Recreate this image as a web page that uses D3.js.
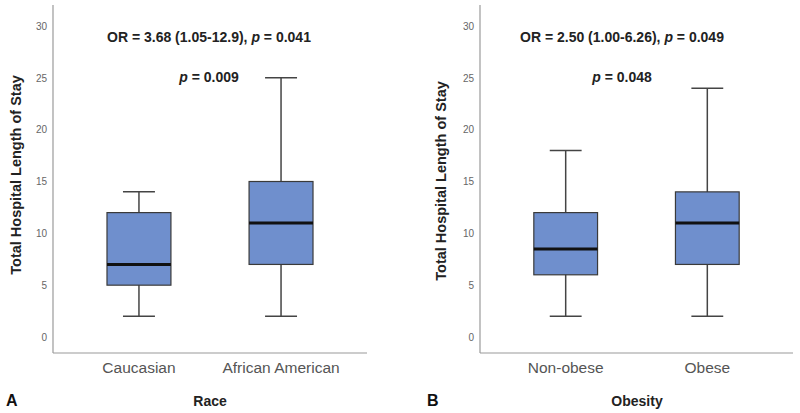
<!DOCTYPE html>
<html>
<head>
<meta charset="utf-8">
<script src="https://cdn.jsdelivr.net/npm/d3@7"></script>
<style>
  body { margin: 0; background: #fff; }
  svg { font-family: "Liberation Sans", Arial, sans-serif; }
</style>
</head>
<body>
<script>
// panel A: race
var raceGroups = ["Caucasian", "African American"];
var raceMin = [2, 2];
var raceQ1 = [5, 7];
var raceMedian = [7, 11];
var raceQ3 = [12, 15];
var raceMax = [14, 25];

// panel B: obesity
var obesityGroups = ["Non-obese", "Obese"];
var obesityMin = [2, 2];
var obesityQ1 = [6, 7];
var obesityMedian = [8.5, 11];
var obesityQ3 = [12, 14];
var obesityMax = [18, 24];

var yTicks = [0, 5, 10, 15, 20, 25, 30];

var w = 800, h = 413;
var svg = d3.select("body").append("svg")
    .attr("width", w)
    .attr("height", h);

var y = d3.scaleLinear()
    .domain([0, 30])
    .range([337, 26]);

function drawPanel(opt) {
    var g = svg.append("g");

    var x = d3.scaleBand()
        .domain(opt.groups)
        .range([opt.left, opt.right])
        .paddingInner(0.55)
        .paddingOuter(0.38);

    var rows = opt.groups.map(function(name, i) {
        return {name: name, min: opt.min[i], q1: opt.q1[i], med: opt.median[i], q3: opt.q3[i], max: opt.max[i]};
    });

    //axis lines (L shape, no ticks)
    g.append("line")
        .attr("x1", opt.left).attr("x2", opt.left)
        .attr("y1", 5).attr("y2", 353)
        .style("stroke", "#9a9a9a").style("stroke-width", 1.2);
    g.append("line")
        .attr("x1", opt.left).attr("x2", opt.right)
        .attr("y1", 353).attr("y2", 353)
        .style("stroke", "#9a9a9a").style("stroke-width", 1.2);

    //y tick labels
    var yAxis = d3.axisLeft(y).tickValues(yTicks).tickSize(0).tickPadding(6);
    var ax = g.append("g")
        .attr("transform", "translate(" + opt.left + ",0)")
        .call(yAxis);
    ax.select(".domain").remove();
    ax.selectAll("text")
        .style("font-size", "10px")
        .style("fill", "#666");

    //category labels
    var xAxis = d3.axisBottom(x).tickSize(0).tickPadding(9);
    var bx = g.append("g")
        .attr("transform", "translate(0,353)")
        .call(xAxis);
    bx.select(".domain").remove();
    bx.selectAll("text")
        .style("font-size", "15.5px")
        .style("fill", "#555");

    var boxes = g.selectAll(".box")
        .data(rows)
        .enter()
        .append("g")
        .attr("class", "box");

    var bw = x.bandwidth();

    //whiskers
    boxes.append("line")
        .attr("x1", function(d){ return x(d.name) + bw / 2; })
        .attr("x2", function(d){ return x(d.name) + bw / 2; })
        .attr("y1", function(d){ return y(d.max); })
        .attr("y2", function(d){ return y(d.min); })
        .style("stroke", "#444").style("stroke-width", 1.5);
    boxes.selectAll(".cap")
        .data(function(d){ return [{name: d.name, v: d.max}, {name: d.name, v: d.min}]; })
        .enter()
        .append("line")
        .attr("class", "cap")
        .attr("x1", function(d){ return x(d.name) + bw / 4; })
        .attr("x2", function(d){ return x(d.name) + bw * 3 / 4; })
        .attr("y1", function(d){ return y(d.v); })
        .attr("y2", function(d){ return y(d.v); })
        .style("stroke", "#444").style("stroke-width", 1.5);

    //boxes
    boxes.append("rect")
        .attr("x", function(d){ return x(d.name); })
        .attr("width", bw)
        .attr("y", function(d){ return y(d.q3); })
        .attr("height", function(d){ return y(d.q1) - y(d.q3); })
        .style("fill", "#6f8fcd")
        .style("stroke", "#3a3a3a")
        .style("stroke-width", 1.2);

    //median
    boxes.append("line")
        .attr("x1", function(d){ return x(d.name); })
        .attr("x2", function(d){ return x(d.name) + bw; })
        .attr("y1", function(d){ return y(d.med); })
        .attr("y2", function(d){ return y(d.med); })
        .style("stroke", "#111").style("stroke-width", 3);

    //y axis title
    g.append("text")
        .attr("transform", "translate(" + opt.titleX + "," + opt.titleY + ") rotate(-90)")
        .attr("text-anchor", "middle")
        .attr("dy", "0.35em")
        .style("font-size", "14.5px")
        .style("font-weight", "bold")
        .style("fill", "#222")
        .text("Total Hospital Length of Stay");

    //annotations
    var cx = opt.annX;
    var or = g.append("text")
        .attr("x", cx).attr("y", 42)
        .attr("text-anchor", "middle")
        .style("font-size", "14px")
        .style("font-weight", "bold")
        .style("fill", "#222");
    or.append("tspan").text("OR = " + opt.or + ", ");
    or.append("tspan").style("font-style", "italic").text("p");
    or.append("tspan").text(" = " + opt.p1);

    var p2 = g.append("text")
        .attr("x", cx).attr("y", 82)
        .attr("text-anchor", "middle")
        .style("font-size", "14px")
        .style("font-weight", "bold")
        .style("fill", "#222");
    p2.append("tspan").style("font-style", "italic").text("p");
    p2.append("tspan").text(" = " + opt.p2);

    //panel letter and x title
    g.append("text")
        .attr("x", opt.letterX).attr("y", 406)
        .style("font-size", "16px")
        .style("font-weight", "bold")
        .style("fill", "#111")
        .text(opt.letter);
    g.append("text")
        .attr("x", opt.xTitleX).attr("y", 406)
        .attr("text-anchor", "middle")
        .style("font-size", "14px")
        .style("font-weight", "bold")
        .style("fill", "#222")
        .text(opt.xTitle);
}

drawPanel({
    groups: raceGroups, min: raceMin, q1: raceQ1, median: raceMedian, q3: raceQ3, max: raceMax,
    left: 53, right: 367, titleX: 16, titleY: 175,
    annX: 209, or: "3.68 (1.05-12.9)", p1: "0.041", p2: "0.009",
    letter: "A", letterX: 6, xTitle: "Race", xTitleX: 210
});

drawPanel({
    groups: obesityGroups, min: obesityMin, q1: obesityQ1, median: obesityMedian, q3: obesityQ3, max: obesityMax,
    left: 480, right: 793, titleX: 441, titleY: 181,
    annX: 622, or: "2.50 (1.00-6.26)", p1: "0.049", p2: "0.048",
    letter: "B", letterX: 427, xTitle: "Obesity", xTitleX: 637
});
</script>
</body>
</html>
